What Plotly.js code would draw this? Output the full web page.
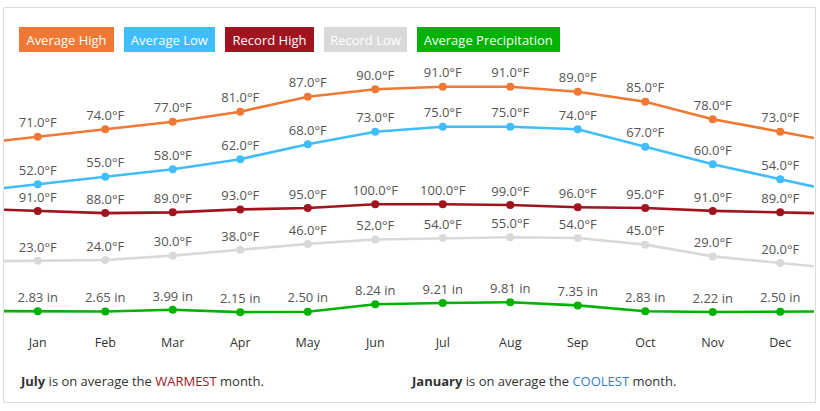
<!DOCTYPE html>
<html>
<head>
<meta charset="utf-8">
<script src="https://cdn.plot.ly/plotly-3.0.1.min.js"></script>
<style>html,body{margin:0;padding:0;background:#fff;}#chart{width:820px;height:411px;}</style>
</head>
<body>
<div id="chart"></div>
<script>
// ---- data ----
const months = ["Jan","Feb","Mar","Apr","May","Jun","Jul","Aug","Sep","Oct","Nov","Dec"];
const seriesNames = ["Average High","Average Low","Record High","Record Low","Average Precipitation"];
const avgHigh = [71,74,77,81,87,90,91,91,89,85,78,73];
const avgLow = [52,55,58,62,68,73,75,75,74,67,60,54];
const recordHigh = [91,88,89,93,95,100,100,99,96,95,91,89];
const recordLow = [23,24,30,38,46,52,54,55,54,45,29,20];
const avgPrecip = [2.83,2.65,3.99,2.15,2.50,8.24,9.21,9.81,7.35,2.83,2.22,2.50];
const colors = ["#ef7934","#3fbdfd","#a0141f","#d9d9d9","#00b300"];

// ---- layout constants (pixels) ----
const W = 820, H = 411;
const PL = 4, PR = 814, PT = 60, PB = 330;
const px2x = p => (p - PL) / (PR - PL);
const py2y = p => (PB - p) / (PB - PT);

const idx = months.map((m, i) => i);

function makeTraces(vals, name, color, yaxis, fmt) {
  const n = vals.length;
  const first = vals[0] - (vals[1] - vals[0]) / 2;
  const last = vals[n - 1] + (vals[n - 1] - vals[n - 2]) / 2;
  return [
    {
      x: [-0.5].concat(idx, [n - 0.5]),
      y: [first].concat(vals, [last]),
      mode: "lines",
      line: {color: color, width: 2.6},
      yaxis: yaxis, hoverinfo: "skip", showlegend: false, cliponaxis: true
    },
    {
      x: idx, y: vals, name: name,
      mode: "markers+text",
      marker: {color: color, size: 8},
      text: vals.map(fmt),
      textposition: "top center",
      textfont: {family: "Open Sans", size: 13, color: "#555"},
      yaxis: yaxis, showlegend: false, cliponaxis: false
    }
  ];
}

const fmtF = v => v.toFixed(1) + "°F";
const fmtIn = v => v.toFixed(2) + " in";

const data = [].concat(
  makeTraces(avgHigh, seriesNames[0], colors[0], "y", fmtF),
  makeTraces(avgLow, seriesNames[1], colors[1], "y", fmtF),
  makeTraces(recordHigh, seriesNames[2], colors[2], "y2", fmtF),
  makeTraces(recordLow, seriesNames[3], colors[3], "y2", fmtF),
  makeTraces(avgPrecip, seriesNames[4], colors[4], "y3", fmtIn)
);

// legend buttons (pixel boxes)
const legendBoxes = [[19.3,114.3],[124.3,215],[225,314],[324,407],[416.7,559.3]];
const legTop = 27.3, legBot = 52.7;
const annotations = seriesNames.map((nm, i) => ({
  xref: "paper", yref: "paper",
  x: px2x((legendBoxes[i][0] + legendBoxes[i][1]) / 2),
  y: py2y((legTop + legBot) / 2),
  xanchor: "center", yanchor: "middle",
  text: nm, showarrow: false,
  font: {family: "Open Sans", size: 13, color: "#fff"},
  bgcolor: colors[i], borderpad: 4, borderwidth: 0,
  width: legendBoxes[i][1] - legendBoxes[i][0] - 8,
  height: legBot - legTop - 8
}));
annotations.push({
  xref: "paper", yref: "paper", x: px2x(18), y: py2y(381),
  xanchor: "left", yanchor: "middle", showarrow: false,
  text: "<b>July</b> is on average the <span style='color:#a0141f'>WARMEST</span> month.",
  font: {family: "Open Sans", size: 13, color: "#333"}
});
annotations.push({
  xref: "paper", yref: "paper", x: px2x(409), y: py2y(381),
  xanchor: "left", yanchor: "middle", showarrow: false,
  text: "<b>January</b> is on average the <span style='color:#2f7ed8'>COOLEST</span> month.",
  font: {family: "Open Sans", size: 13, color: "#333"}
});

const shapes = [{
  type: "rect", xref: "paper", yref: "paper",
  x0: px2x(3.5), x1: px2x(815.5), y0: py2y(402.5), y1: py2y(7.5),
  line: {color: "#dcdcdc", width: 1}, fillcolor: "rgba(0,0,0,0)", layer: "below"
}];

const hideAxis = {showgrid: false, zeroline: false, showticklabels: false, showline: false, ticks: "", fixedrange: true};

const layout = {
  width: W, height: H,
  margin: {l: PL, r: W - PR, t: PT, b: H - PB, pad: 0},
  paper_bgcolor: "#fff", plot_bgcolor: "#fff",
  showlegend: false,
  font: {family: "Open Sans", color: "#333"},
  xaxis: {
    range: [-0.5, months.length - 0.5], tickvals: idx, ticktext: months,
    showgrid: false, zeroline: false, showline: false, ticks: "",
    ticklabelstandoff: 3,
    tickfont: {family: "Open Sans", size: 12.5, color: "#333"}, fixedrange: true
  },
  yaxis: Object.assign({range: [-6.32, 101.68]}, hideAxis),
  yaxis2: Object.assign({range: [-71.28, 296.57], overlaying: "y"}, hideAxis),
  yaxis3: Object.assign({range: [-11.58, 196.12], overlaying: "y"}, hideAxis),
  annotations: annotations,
  shapes: shapes
};

Plotly.newPlot("chart", data, layout, {displayModeBar: false, staticPlot: true});
</script>
</body>
</html>
